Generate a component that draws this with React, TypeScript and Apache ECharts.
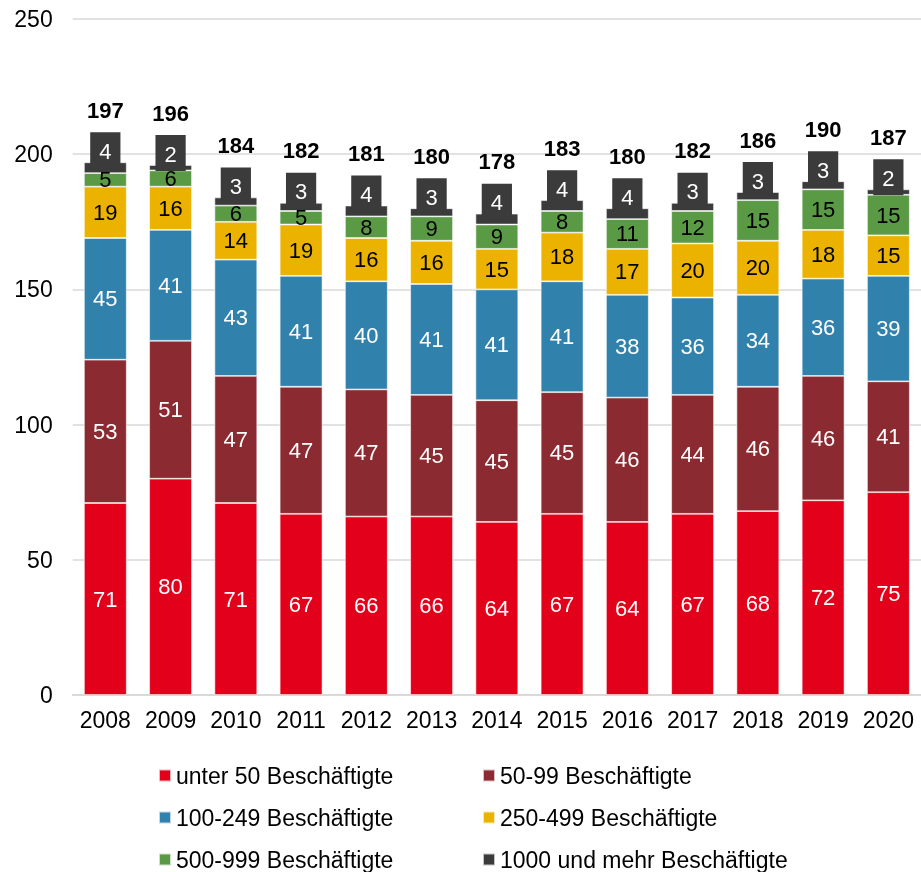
import React, { useEffect, useRef } from "react";
import * as echarts from "echarts";

const years = ["2008", "2009", "2010", "2011", "2012", "2013", "2014", "2015", "2016", "2017", "2018", "2019", "2020"];
const under50 = [71, 80, 71, 67, 66, 66, 64, 67, 64, 67, 68, 72, 75];
const s50to99 = [53, 51, 47, 47, 47, 45, 45, 45, 46, 44, 46, 46, 41];
const s100to249 = [45, 41, 43, 41, 40, 41, 41, 41, 38, 36, 34, 36, 39];
const s250to499 = [19, 16, 14, 19, 16, 16, 15, 18, 17, 20, 20, 18, 15];
const s500to999 = [5, 6, 6, 5, 8, 9, 9, 8, 11, 12, 15, 15, 15];
const s1000plus = [4, 2, 3, 3, 4, 3, 4, 4, 4, 3, 3, 3, 2];
const totals = [197, 196, 184, 182, 181, 180, 178, 183, 180, 182, 186, 190, 187];
const yTicks = { min: 0, max: 250, interval: 50 };

const seriesDefs = [
  { name: "unter 50 Beschäftigte", data: under50, color: "#E2001A", text: "#ffffff" },
  { name: "50-99 Beschäftigte", data: s50to99, color: "#8B2A30", text: "#ffffff" },
  { name: "100-249 Beschäftigte", data: s100to249, color: "#3181AD", text: "#ffffff" },
  { name: "250-499 Beschäftigte", data: s250to499, color: "#EBB300", text: "#000000" },
  { name: "500-999 Beschäftigte", data: s500to999, color: "#5B9A45", text: "#000000" },
  { name: "1000 und mehr Beschäftigte", data: s1000plus, color: "#3B3B3B", text: "#ffffff" },
];

const FONT = "'Liberation Sans', Arial, sans-serif";

// legend slots: [series index, left, top]
const legendSlots: [number, number, number][] = [
  [0, 158, 764],
  [1, 482, 764],
  [2, 158, 806],
  [3, 482, 806],
  [4, 158, 848],
  [5, 482, 848],
];

export default function App() {
  const ref = useRef<HTMLDivElement>(null);
  useEffect(() => {
    if (!ref.current) return;
    const chart = echarts.init(ref.current, undefined, { renderer: "svg" });
    const series: any[] = seriesDefs.map((s, idx) => {
      const isTop = idx === seriesDefs.length - 1;
      return {
        type: "bar",
        name: s.name,
        stack: "total",
        data: s.data,
        barWidth: "65.6%",
        itemStyle: { color: s.color, borderColor: "rgba(255,255,255,0.7)", borderWidth: 0.8 },
        label: isTop
          ? {
              show: true,
              position: "top",
              distance: 1,
              formatter: (p: any) => `{t|${totals[p.dataIndex]}}\n{b|${p.value}}`,
              rich: {
                t: { fontFamily: FONT, fontSize: 22, fontWeight: "bold", color: "#000", lineHeight: 58, align: "center" },
                b: {
                  fontFamily: FONT,
                  fontSize: 22,
                  color: "#fff",
                  backgroundColor: "#3B3B3B",
                  lineHeight: 22,
                  padding: [8, 9, 6, 9],
                  align: "center",
                },
              },
            }
          : {
              show: true,
              position: "inside",
              color: s.text,
              fontFamily: FONT,
              fontSize: 22,
            },
      };
    });
    const legends = legendSlots.map(([i, left, top]) => ({
      orient: "horizontal",
      left,
      top,
      padding: 0,
      itemWidth: 12,
      itemHeight: 12,
      icon: "rect",
      data: [seriesDefs[i].name],
      textStyle: { color: "#000", fontSize: 23, fontFamily: FONT },
    }));
    chart.setOption({
      animation: false,
      textStyle: { fontFamily: FONT },
      grid: { left: 72.7, top: 19, width: 852.5, height: 676 },
      xAxis: {
        type: "category",
        data: years,
        axisLine: { lineStyle: { color: "#d9d9d9", width: 2 } },
        axisTick: { show: false },
        axisLabel: { color: "#000", fontSize: 23, fontFamily: FONT, margin: 13, interval: 0 },
      },
      yAxis: {
        type: "value",
        min: yTicks.min,
        max: yTicks.max,
        interval: yTicks.interval,
        axisLine: { show: false },
        axisTick: { show: false },
        splitLine: { lineStyle: { color: "#d9d9d9", width: 1.5 } },
        axisLabel: { color: "#000", fontSize: 23, fontFamily: FONT, margin: 20 },
      },
      legend: legends,
      series,
    });
    return () => chart.dispose();
  }, []);
  return <div ref={ref} style={{ position: "fixed", left: 0, top: 0, width: 921, height: 872 }} />;
}
